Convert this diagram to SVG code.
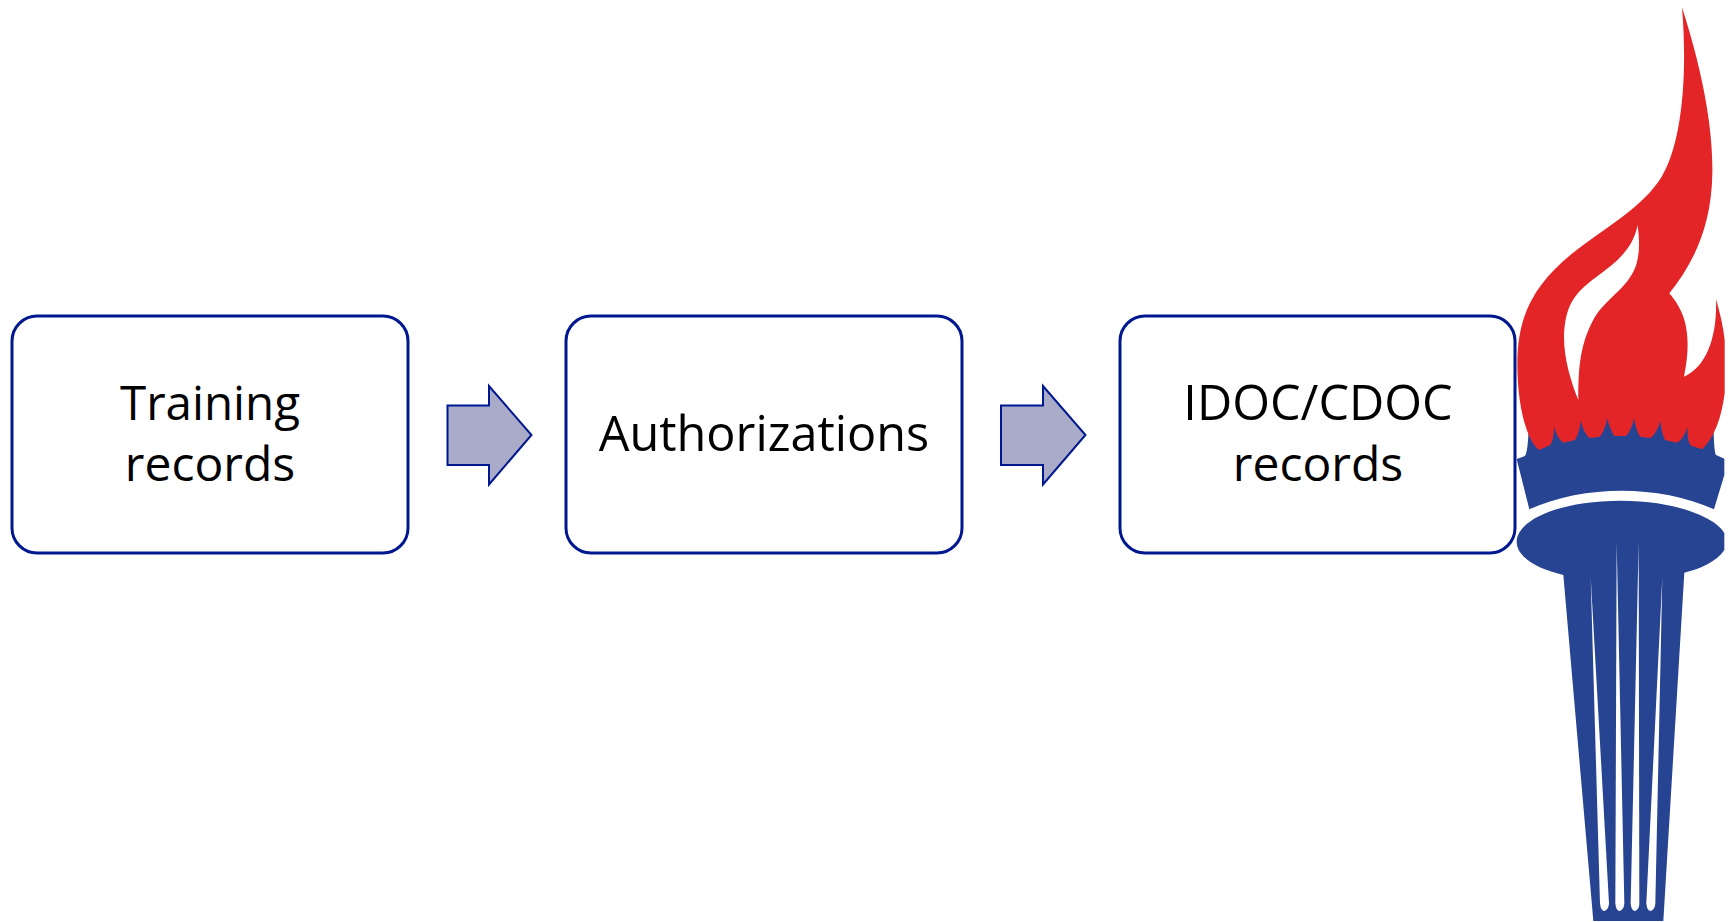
<svg xmlns="http://www.w3.org/2000/svg" width="1735" height="922" viewBox="0 0 1735 922">
<style>
.box{fill:#fff;stroke:#00188f;stroke-width:3}
.arr{fill:#a9abc8;stroke:#00188f;stroke-width:2}
text{font-family:"Open Sans","Noto Sans","Liberation Sans",sans-serif;font-size:48px;fill:#000;text-anchor:middle}
.blue{fill:#274492}
.red{fill:#e42527}
.gap{fill:#fff}
</style>
<rect width="1735" height="922" fill="#fff"/>
<g id="node-training"><rect class="box" x="12" y="316" width="396" height="237" rx="25"/><text x="210" y="420" style="font-size:47.5px">Training</text><text x="210" y="481">records</text></g>
<g id="node-authorizations"><rect class="box" x="566" y="316" width="396" height="237" rx="25"/><text x="764" y="451" style="font-size:48.6px">Authorizations</text></g>
<g id="node-records"><rect class="box" x="1120" y="316" width="395" height="237" rx="25"/><text x="1318" y="420" style="font-size:48.6px">IDOC/CDOC</text><text x="1318" y="481">records</text></g>
<g id="connectors">
<path class="arr" d="M447.500 405.500H489V386L531.500 435L489 484.500V465H447.500Z"/>
<path class="arr" d="M1001 405.500H1043V386L1085.500 435L1043 484.500V465H1001Z"/>
</g>
<g id="torch">
<g transform="translate(1480 420) scale(.33333)">
<path class="blue" d="M110 117L135 108Q147 90 147 -40H700Q700 95 708 105L733 116V165L702 268C620 230 520 212 425 212C330 212 230 230 148 268Z"/>
<path class="blue" d="M110 365C110 300 240 242 422 242C600 242 715 300 733 340V390C710 425 660 447 613 458L550 1503H340L250 465C170 447 110 410 110 365Z"/>
<path class="gap" d="M332 470L360 1450Q362 1473 373 1473Q386 1470 387 1450Z"/>
<path class="gap" d="M410 368L406 1450Q408 1473 419 1473Q432 1470 433 1450Z"/>
<path class="gap" d="M476 368L452 1450Q454 1473 465 1473Q478 1470 478 1450Z"/>
<path class="gap" d="M547 470L499 1450Q501 1473 512 1473Q525 1470 526 1450Z"/>
</g>
<g transform="translate(1480 0) scale(.33333)">
<path class="red" fill-rule="evenodd" d="M606 22C660 190 700 370 697 520C695 680 640 790 568 880C610 930 640 990 612 1130C680 1100 712 1010 708 897C720 940 730 980 734 1020V1180C725 1250 705 1310 667 1348L635 1338Q622 1330 622 1280Q610 1320 590 1328L555 1320Q545 1300 541 1262Q530 1300 512 1314L480 1310Q468 1290 462 1255Q455 1290 438 1308H403Q390 1290 382 1255Q375 1290 360 1310L328 1314Q312 1300 302 1262Q298 1300 285 1320L250 1328Q232 1315 222 1280Q222 1320 210 1336L177 1350C140 1320 112 1220 112 1090C112 950 160 850 290 750C380 680 490 620 545 530C600 440 625 250 606 22ZM473 675C460 740 420 780 350 830C280 880 255 920 252 1010C252 1080 275 1150 295 1200C295 1100 300 1030 345 950C385 890 450 860 470 790C480 750 478 720 473 675Z"/>
</g>
</g>
</svg>
